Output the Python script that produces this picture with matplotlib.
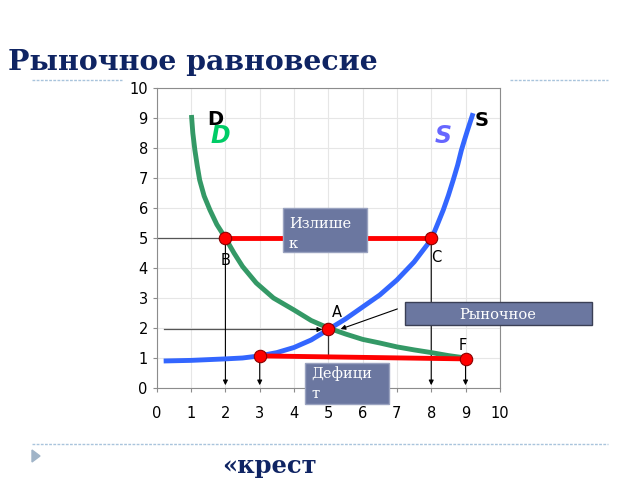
import matplotlib
matplotlib.use("Agg")
import matplotlib.pyplot as plt
from matplotlib.patches import FancyArrowPatch

# --- Data ---
demand_x = [1.01, 1.05, 1.11, 1.18, 1.25, 1.38, 1.55, 1.75, 2.0, 2.25, 2.5, 2.9, 3.4, 4.0, 4.5,
            5.0, 5.5, 6.0, 6.5, 7.0, 7.5, 8.0, 8.5, 9.0]
demand_y = [9.1, 8.5, 7.93, 7.4, 6.93, 6.4, 5.93, 5.45, 5.0, 4.5, 4.05, 3.5, 3.0, 2.6, 2.25,
            2.0, 1.8, 1.62, 1.5, 1.37, 1.27, 1.18, 1.08, 1.0]

supply_x = [0.2, 1.0, 2.0, 2.5, 3.0, 3.5, 4.0, 4.5, 5.0, 5.5, 6.0, 6.5, 7.0, 7.5, 8.0,
            8.18, 8.35, 8.5, 8.64, 8.77, 8.88, 8.97, 9.06, 9.14, 9.22]
supply_y = [0.9, 0.92, 0.97, 1.0, 1.07, 1.18, 1.35, 1.6, 1.95, 2.3, 2.7, 3.1, 3.6, 4.2, 4.95,
            5.45, 5.93, 6.42, 6.93, 7.43, 7.93, 8.27, 8.6, 8.88, 9.16]

surplus_x = [2, 8]
surplus_y = [5, 5]
deficit_x = [3, 9]
deficit_y = [1.07, 0.97]
equilibrium = (5, 1.95)

ticks = list(range(0, 11))

NAVY = "#0f2463"
BOX = "#6b77a0"

fig = plt.figure(figsize=(6.4, 4.8), dpi=100)
ax = fig.add_axes([0.245, 0.1917, 0.536, 0.625])

ax.set_xlim(0, 10)
ax.set_ylim(0, 10)
ax.set_xticks(ticks)
ax.set_yticks(ticks)
ax.grid(True, color="#e6e6e6", linewidth=0.8)
ax.set_axisbelow(True)
for sp in ax.spines.values():
    sp.set_color("#8c8c8c")
ax.tick_params(axis="both", labelsize=10.5, color="#8c8c8c", length=3)
ax.tick_params(axis="x", pad=10)

# guide lines and arrows
ax.plot([0, surplus_x[0]], [5, 5], color="#555555", lw=0.9)
ax.plot([0.2, equilibrium[0]], [equilibrium[1], equilibrium[1]], color="#555555", lw=0.9)
for x0, y0 in [(surplus_x[0], 5), (surplus_x[1], 5), (deficit_x[0], deficit_y[0]), (deficit_x[1], deficit_y[1])]:
    ax.annotate("", xy=(x0, 0), xytext=(x0, y0),
                arrowprops=dict(arrowstyle="-|>", color="black", lw=0.8, mutation_scale=7))
ax.plot([equilibrium[0], equilibrium[0]], [equilibrium[1], 1.0], color="#333333", lw=0.9)
ax.annotate("", xy=(equilibrium[0] - 0.1, equilibrium[1]), xytext=(equilibrium[0] - 0.6, equilibrium[1]),
            arrowprops=dict(arrowstyle="-|>", color="black", lw=0.8, mutation_scale=7))

# curves
ax.plot(demand_x, demand_y, color="#349966", lw=3.5, solid_capstyle="butt", zorder=3)
ax.plot(supply_x, supply_y, color="#3366ff", lw=3.5, solid_capstyle="butt", zorder=3)

# surplus / deficit segments
ax.plot(surplus_x, surplus_y, color="red", lw=3.5, zorder=4)
ax.plot(deficit_x, deficit_y, color="red", lw=3.5, zorder=4)
pts_x = surplus_x + deficit_x + [equilibrium[0]]
pts_y = surplus_y + deficit_y + [equilibrium[1]]
ax.scatter(pts_x, pts_y, s=80, color="red", edgecolor="#8b0000", linewidth=0.8, zorder=5)

# point labels
ax.text(1.85, 4.1, "B", fontsize=10.5)
ax.text(8.0, 4.2, "C", fontsize=10.5)
ax.text(5.1, 2.35, "A", fontsize=10.5)
ax.text(8.8, 1.25, "F", fontsize=10.5)
ax.text(1.47, 8.78, "D", fontsize=14, fontweight="bold")
ax.text(1.57, 8.15, "D", fontsize=17, fontweight="bold", style="italic", color="#00cc66")
ax.text(9.27, 8.72, "S", fontsize=14, fontweight="bold")
ax.text(8.1, 8.15, "S", fontsize=17, fontweight="bold", style="italic", color="#6666ff")

fig.text(0.012, 1 - 70 / 480, "Рыночное равновесие", fontsize=20.4, fontweight="bold",
         family="DejaVu Serif", color=NAVY, va="baseline")
fig.text(0.347, 1 - 473 / 480, "«крест", fontsize=17.5, fontweight="bold",
         family="DejaVu Serif", color=NAVY, va="baseline")

# boxes
fig.patches.append(plt.Rectangle((283 / 640, 1 - 252 / 480), 84 / 640, 44 / 480,
                                 transform=fig.transFigure, facecolor=BOX, edgecolor="#9aa3c0", zorder=10))
fig.text(289 / 640, 1 - 224 / 480, "Излише", fontsize=10.5, family="DejaVu Serif",
         color="white", va="center", zorder=11)
fig.text(289 / 640, 1 - 244 / 480, "к", fontsize=10.5, family="DejaVu Serif",
         color="white", va="center", zorder=11)

fig.patches.append(plt.Rectangle((405 / 640, 1 - 325 / 480), 187 / 640, 23 / 480,
                                 transform=fig.transFigure, facecolor=BOX, edgecolor="#3a3f55", zorder=10))
fig.text(498 / 640, 1 - 315 / 480, "Рыночное", fontsize=10.5, family="DejaVu Serif",
         color="white", va="center", ha="center", zorder=11)

fig.patches.append(plt.Rectangle((305 / 640, 1 - 404 / 480), 84 / 640, 41 / 480,
                                 transform=fig.transFigure, facecolor=BOX, edgecolor="#9aa3c0", zorder=10))
fig.text(311 / 640, 1 - 374 / 480, "Дефици", fontsize=10.5, family="DejaVu Serif",
         color="white", va="center", zorder=11)
fig.text(311 / 640, 1 - 394 / 480, "т", fontsize=10.5, family="DejaVu Serif",
         color="white", va="center", zorder=11)

# arrow from box to A
fig.patches.append(FancyArrowPatch((400 / 640, 1 - 308 / 480), (338 / 640, 1 - 330 / 480),
                                   transform=fig.transFigure, arrowstyle="-|>",
                                   mutation_scale=7, color="black", lw=0.8, zorder=9))

# slide decorations
for x0, x1, y in [(32, 122, 80), (510, 608, 80), (32, 608, 444)]:
    fig.add_artist(plt.Line2D([x0 / 640, x1 / 640], [1 - y / 480, 1 - y / 480],
                              transform=fig.transFigure, color="#a9c4dc", lw=1, ls=(0, (2, 1))))
fig.add_artist(plt.Polygon([[32 / 640, 1 - 450 / 480], [32 / 640, 1 - 462 / 480], [40 / 640, 1 - 456 / 480]],
                           closed=True, transform=fig.transFigure, color="#a0b4c8"))

fig.savefig("out.png", dpi=100)
